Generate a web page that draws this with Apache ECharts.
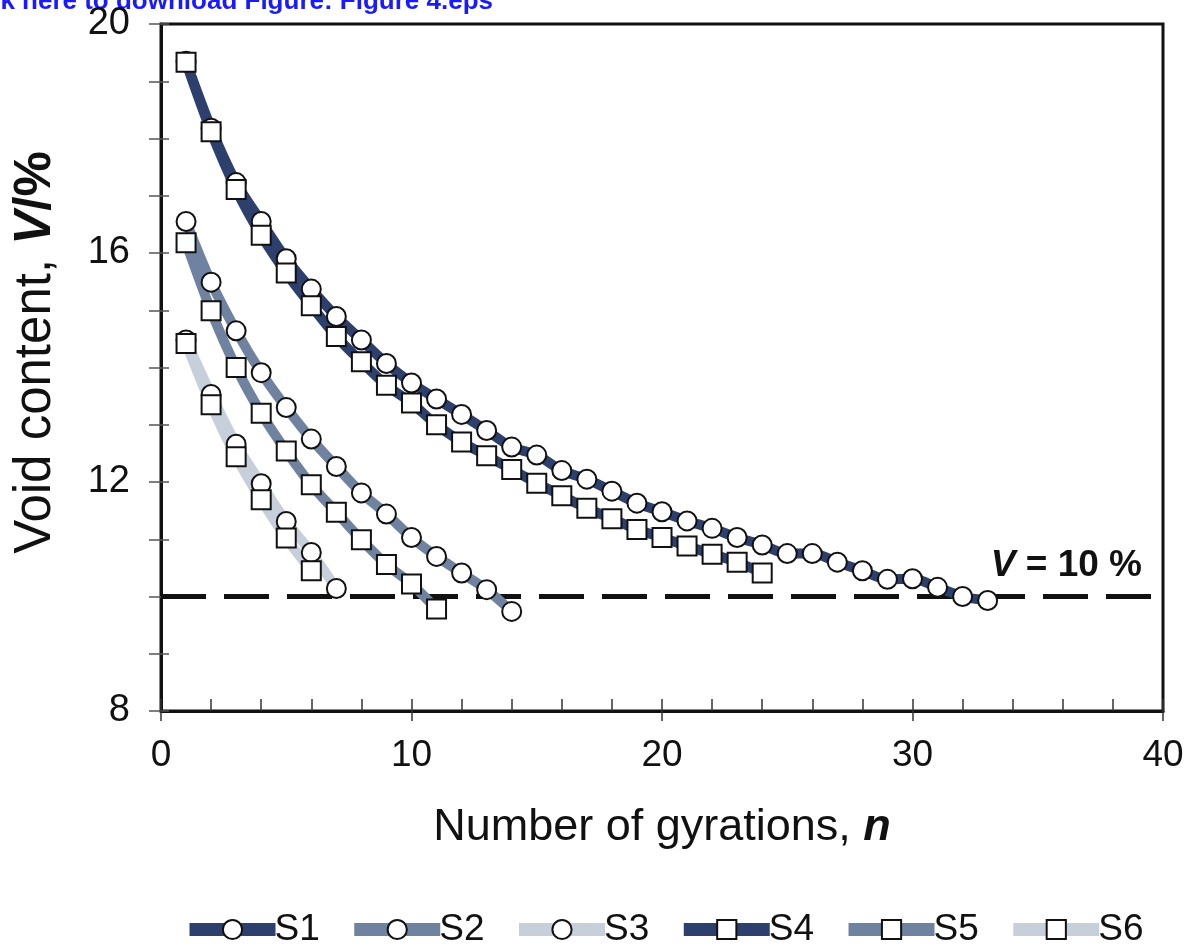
<!DOCTYPE html>
<html>
<head>
<meta charset="utf-8">
<script src="https://cdn.jsdelivr.net/npm/echarts@6/dist/echarts.min.js"></script>
<style>
html,body{margin:0;padding:0;background:#fff;}
#chart{width:1191px;height:950px;}
</style>
</head>
<body>
<div id="chart"></div>
<script>
// Data
const gyrations = [1,2,3,4,5,6,7,8,9,10,11,12,13,14,15,16,17,18,19,20,21,22,23,24,25,26,27,28,29,30,31,32,33];
const seriesNames = ['S1','S2','S3','S4','S5','S6'];
const s1 = [19.35,18.18,17.23,16.55,15.9,15.37,14.89,14.48,14.07,13.73,13.45,13.18,12.9,12.61,12.47,12.2,12.05,11.84,11.63,11.48,11.32,11.19,11.03,10.9,10.75,10.75,10.6,10.45,10.3,10.31,10.16,10.0,9.93];
const s2 = [16.55,15.49,14.64,13.91,13.3,12.75,12.27,11.81,11.44,11.03,10.7,10.41,10.12,9.74];
const s3 = [14.48,13.53,12.66,11.97,11.31,10.77,10.14];
const s4 = [19.33,18.12,17.11,16.31,15.65,15.08,14.54,14.1,13.69,13.38,13.0,12.7,12.46,12.22,11.98,11.76,11.54,11.36,11.17,11.03,10.88,10.74,10.6,10.41];
const s5 = [16.18,14.99,14.0,13.2,12.54,11.95,11.47,10.99,10.56,10.22,9.78];
const s6 = [14.42,13.35,12.44,11.69,11.02,10.45];
const threshold = 10;
const xLabels = [0,10,20,30,40];
const yLabels = [8,12,16,20];

const navy = '#2d3f6c', mid = '#6f829f', light = '#c7cfdb';
const FONT = '"Liberation Sans", Arial, Helvetica, sans-serif';

function pairs(vals){ return vals.map((v,i)=>[gyrations[i], v]); }
function mk(name, vals, color, symbol){
  return {
    name, type:'line', data:pairs(vals), smooth:0.3,
    symbol, symbolSize:19,
    lineStyle:{color, width:10},
    itemStyle:{color:'#fff', borderColor:'#111', borderWidth:2},
    emphasis:{disabled:true}
  };
}

const chart = echarts.init(document.getElementById('chart'), null, {renderer:'canvas'});
chart.setOption({
  animation:false,
  backgroundColor:'#fff',
  textStyle:{fontFamily:FONT},
  grid:{left:161,right:28,top:24,bottom:239,show:true,borderColor:'#111',borderWidth:3,
        containLabel:false, outerBoundsMode:'none'},
  legend:{
    bottom:-3, left:178,
    itemWidth:86, itemHeight:24, itemGap:28,
    lineStyle:{width:13},
    textStyle:{fontSize:37,color:'#111',fontFamily:FONT,padding:[0,0,0,-6]},
    data:seriesNames
  },
  xAxis:[{
    type:'value', min:0, max:40, interval:2,
    axisLine:{show:true,lineStyle:{color:'#111',width:3}},
    axisTick:{show:true,inside:true,length:12,lineStyle:{color:'#333',width:1.5}},
    splitLine:{show:false},
    axisLabel:{fontSize:37,color:'#111',margin:26,
      formatter:v=>xLabels.includes(v)?String(v):''},
    name:'{a|Number of gyrations, }{b|n}', nameLocation:'middle', nameGap:94,
    nameTextStyle:{rich:{a:{fontSize:45,color:'#111',fontFamily:FONT},b:{fontSize:45,fontWeight:'bold',fontStyle:'italic',color:'#111',fontFamily:FONT}}}
  },{
    type:'value', min:0, max:40, interval:10, position:'bottom',
    axisLine:{show:false},
    axisTick:{show:true,inside:false,length:10,lineStyle:{color:'#333',width:1.5}},
    axisLabel:{show:false}, splitLine:{show:false}
  }],
  yAxis:[{
    type:'value', min:8, max:20, interval:1,
    axisLine:{show:true,lineStyle:{color:'#111',width:3}},
    axisTick:{show:true,inside:false,length:12,lineStyle:{color:'#555',width:1.5}},
    splitLine:{show:false},
    axisLabel:{fontSize:38,color:'#111',margin:31,
      formatter:v=>yLabels.includes(v)?String(v):''},
    name:'{a|Void content, }{b|V}{c|/%}', nameLocation:'middle', nameGap:100, nameRotate:90,
    nameTextStyle:{padding:[0,0,0,30],rich:{a:{fontSize:51,color:'#111',fontFamily:FONT},b:{fontSize:51,fontWeight:'bold',fontStyle:'italic',color:'#111',fontFamily:FONT},c:{fontSize:51,fontWeight:'bold',color:'#111',fontFamily:FONT}}}
  },{
    type:'value', min:8, max:20, interval:1, position:'left',
    axisLine:{show:false},
    axisTick:{show:true,inside:true,length:8,lineStyle:{color:'#555',width:1.5}},
    axisLabel:{show:false}, splitLine:{show:false}
  }],
  series:[
    {
      name:'threshold', type:'line', data:[[0,threshold],[40,threshold]],
      symbol:'none', silent:true, z:1,
      lineStyle:{color:'#111',width:5,type:[45,18]},
      emphasis:{disabled:true}
    },
    mk('S1', s1, navy, 'circle'),
    mk('S2', s2, mid, 'circle'),
    mk('S3', s3, light, 'circle'),
    mk('S4', s4, navy, 'rect'),
    mk('S5', s5, mid, 'rect'),
    mk('S6', s6, light, 'rect')
  ],
  graphic:[
    {type:'text', right:1191-1142, top:547, style:{
      text:'{v|V}{t| = 10 %}', rich:{
        v:{fontSize:37,fontWeight:'bold',fontStyle:'italic',fill:'#111',fontFamily:FONT},
        t:{fontSize:37,fontWeight:'bold',fill:'#111',fontFamily:FONT}}
    }},
    {type:'text', right:1191-493, top:-11, style:{
      text:'Click here to download Figure: Figure 4.eps',
      fontSize:26, fontWeight:'bold', fill:'#1a1aff', fontFamily:FONT
    }}
  ]
});
</script>
</body>
</html>
